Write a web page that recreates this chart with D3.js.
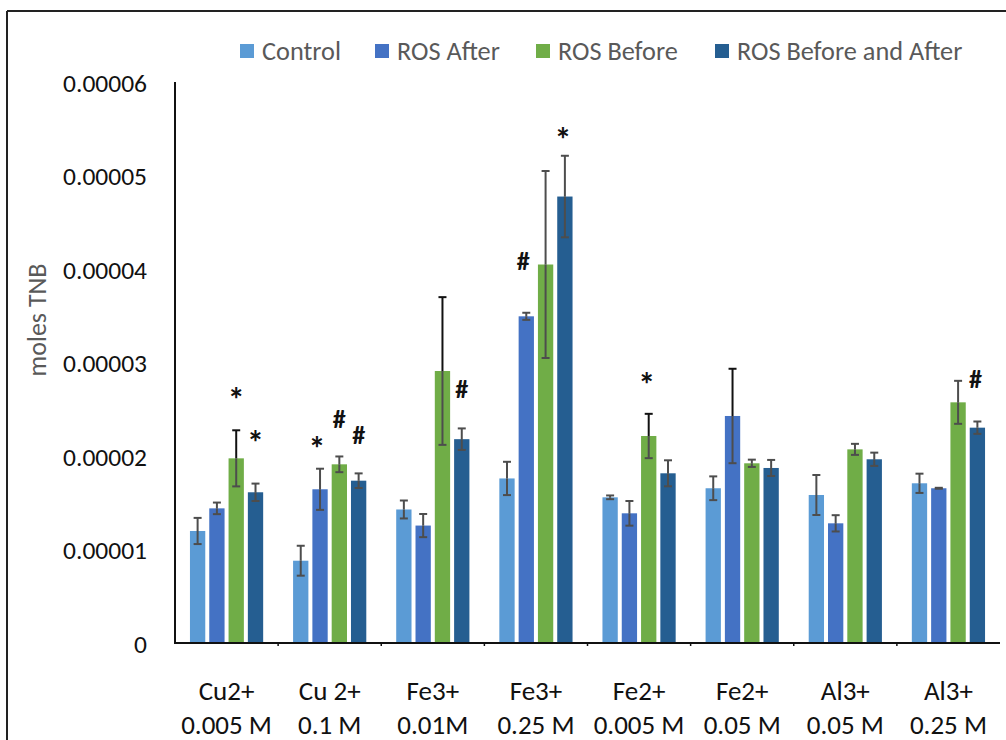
<!DOCTYPE html>
<html>
<head>
<meta charset="utf-8">
<script src="https://cdn.jsdelivr.net/npm/d3@7"></script>
<style>
  html, body { margin: 0; padding: 0; background: #fff; }
  svg { display: block; }
  text { font-family: Carlito, Lato, "Open Sans", sans-serif; }
</style>
</head>
<body>
<svg id="chart" width="1006" height="740"></svg>
<script>
// Metal ion treatments (two-line category labels)
const categories = ["Cu2+|0.005 M", "Cu 2+|0.1 M", "Fe3+|0.01M", "Fe3+|0.25 M",
                    "Fe2+|0.005 M", "Fe2+|0.05 M", "Al3+|0.05 M", "Al3+|0.25 M"];
const seriesNames = ["Control", "ROS After", "ROS Before", "ROS Before and After"];

// Mean moles of TNB per treatment
const control      = [1.198e-5, 0.88e-5, 1.428e-5, 1.76e-5, 1.558e-5, 1.655e-5, 1.583e-5, 1.708e-5];
const rosAfter     = [1.44e-5, 1.644e-5, 1.256e-5, 3.494e-5, 1.387e-5, 2.428e-5, 1.28e-5, 1.655e-5];
const rosBefore    = [1.975e-5, 1.911e-5, 2.909e-5, 4.048e-5, 2.214e-5, 1.922e-5, 2.071e-5, 2.574e-5];
const rosBeforeAft = [1.612e-5, 1.736e-5, 2.18e-5, 4.775e-5, 1.815e-5, 1.872e-5, 1.965e-5, 2.303e-5];

// Error (± one deviation)
const controlErr      = [1.4e-6, 1.6e-6, 0.96e-6, 1.78e-6, 0.2e-6, 1.27e-6, 2.14e-6, 1.03e-6];
const rosAfterErr     = [0.62e-6, 2.2e-6, 1.24e-6, 0.38e-6, 1.32e-6, 5.05e-6, 0.87e-6, 0.05e-6];
const rosBeforeErr    = [3.0e-6, 0.84e-6, 7.9e-6, 10.0e-6, 2.37e-6, 0.39e-6, 0.59e-6, 2.3e-6];
const rosBeforeAftErr = [0.93e-6, 0.78e-6, 1.15e-6, 4.36e-6, 1.39e-6, 0.86e-6, 0.71e-6, 0.66e-6];

const yTicks = [0, 0.00001, 0.00002, 0.00003, 0.00004, 0.00005, 0.00006];
const yTickLabels = ["0", "0.00001", "0.00002", "0.00003", "0.00004", "0.00005", "0.00006"];

// Significance marks: [category index, series index, symbol]
const marks = [[0, 2, "*"], [0, 3, "*"], [1, 1, "*"], [1, 2, "#"], [1, 3, "#"],
               [2, 3, "#"], [3, 1, "#"], [3, 3, "*"], [4, 2, "*"], [7, 3, "#"]];
// Extra vertical clearance for each mark above its whisker (px)
const markLift = [40, 50, 29, 37, 38, 39, 52, 25, 38, 42];
const markShift = [0, 0, -3, 0, 0, 0, -3, -2, -2, -2];

const values = [control, rosAfter, rosBefore, rosBeforeAft];
const errors = [controlErr, rosAfterErr, rosBeforeErr, rosBeforeAftErr];
const colors = ["#5B9BD5", "#4472C4", "#70AD47", "#255E91"];
// Whiskers drawn in black above the bar (category, series)
const blackWhiskers = [[0, 2], [2, 2], [4, 2], [5, 1]];

const svg = d3.select("#chart");

const x0 = d3.scaleBand().domain(d3.range(categories.length)).range([175, 1000]).padding(0);
const x1 = d3.scaleBand().domain(d3.range(seriesNames.length))
  .range([0, x0.bandwidth()]).paddingInner(0.207).paddingOuter(0.775);
const y = d3.scaleLinear().domain([0, 0.00006]).range([643, 82]);

// Outer frame (top and left edges)
svg.append("line").attr("x1", 7).attr("x2", 1006).attr("y1", 11).attr("y2", 11)
  .attr("stroke", "#222").attr("stroke-width", 2);
svg.append("line").attr("x1", 7).attr("x2", 7).attr("y1", 11).attr("y2", 740)
  .attr("stroke", "#222").attr("stroke-width", 2);

// Bars
const rows = [];
categories.forEach((c, ci) => seriesNames.forEach((s, si) => {
  rows.push({ci, si, v: values[si][ci], e: errors[si][ci]});
}));

svg.append("g").selectAll("rect").data(rows).join("rect")
  .attr("x", d => x0(d.ci) + x1(d.si))
  .attr("width", x1.bandwidth())
  .attr("y", d => y(d.v))
  .attr("height", d => y(0) - y(d.v))
  .attr("fill", d => colors[d.si]);

// Error bars
const eg = svg.append("g");
rows.forEach(d => {
  const cx = x0(d.ci) + x1(d.si) + x1.bandwidth() / 2;
  const top = y(d.v + d.e), bot = y(d.v - d.e), mid = y(d.v);
  const dark = blackWhiskers.some(b => b[0] === d.ci && b[1] === d.si);
  const upColor = dark ? "#111" : "#4d4d4d";
  eg.append("line").attr("x1", cx).attr("x2", cx).attr("y1", top).attr("y2", mid)
    .attr("stroke", upColor).attr("stroke-width", 2);
  eg.append("line").attr("x1", cx).attr("x2", cx).attr("y1", mid).attr("y2", bot)
    .attr("stroke", "#4d4d4d").attr("stroke-width", 2);
  eg.append("line").attr("x1", cx - 4).attr("x2", cx + 4).attr("y1", top).attr("y2", top)
    .attr("stroke", upColor).attr("stroke-width", 2);
  eg.append("line").attr("x1", cx - 4).attr("x2", cx + 4).attr("y1", bot).attr("y2", bot)
    .attr("stroke", "#4d4d4d").attr("stroke-width", 2);
});

// Significance symbols
svg.append("g").selectAll("text").data(marks).join("text")
  .attr("x", (m, i) => x0(m[0]) + x1(m[1]) + x1.bandwidth() / 2 + markShift[i])
  .attr("y", (m, i) => y(values[m[1]][m[0]] + errors[m[1]][m[0]]) - markLift[i] + (m[2] === "*" ? 9 : 0))
  .attr("text-anchor", "middle")
  .attr("dominant-baseline", "central")
  .attr("font-size", m => m[2] === "*" ? 34 : 26)
  .attr("font-weight", 700)
  .attr("fill", "#111")
  .text(m => m[2]);

// Axes lines
svg.append("line").attr("x1", 175).attr("x2", 175).attr("y1", y(0.00006)).attr("y2", y(0))
  .attr("stroke", "#111").attr("stroke-width", 2);
svg.append("line").attr("x1", 174).attr("x2", 1000).attr("y1", y(0)).attr("y2", y(0))
  .attr("stroke", "#111").attr("stroke-width", 2);
svg.append("g").selectAll("line").data(d3.range(1, categories.length)).join("line")
  .attr("x1", i => x0(i)).attr("x2", i => x0(i))
  .attr("y1", y(0)).attr("y2", y(0) + 3)
  .attr("stroke", "#111").attr("stroke-width", 1.5);

// Y tick labels
svg.append("g").selectAll("text").data(yTicks).join("text")
  .attr("x", 147).attr("y", d => y(d) + 1)
  .attr("text-anchor", "end").attr("dominant-baseline", "central")
  .attr("font-size", 25.5).attr("fill", "#111")
  .text((d, i) => yTickLabels[i]);

// Y axis title
svg.append("text")
  .attr("transform", "translate(37,320) rotate(-90)")
  .attr("text-anchor", "middle").attr("dominant-baseline", "central")
  .attr("font-size", 26).attr("fill", "#595959")
  .text("moles TNB");

// X category labels (two lines)
const xl = svg.append("g").selectAll("text").data(categories).join("text")
  .attr("text-anchor", "middle").attr("font-size", 27).attr("fill", "#111");
xl.append("tspan").attr("x", (c, i) => x0(i) + x0.bandwidth() / 2).attr("y", 700)
  .text(c => c.split("|")[0]);
xl.append("tspan").attr("x", (c, i) => x0(i) + x0.bandwidth() / 2).attr("y", 733.5)
  .text(c => c.split("|")[1]);

// Legend
const legendX = [262, 397, 558, 737];
const lg = svg.append("g").selectAll("g").data(seriesNames).join("g");
lg.append("rect").attr("x", (s, i) => legendX[i] - 22).attr("y", 44)
  .attr("width", 14).attr("height", 14).attr("fill", (s, i) => colors[i]);
lg.append("text").attr("x", (s, i) => legendX[i]).attr("y", 51)
  .attr("dominant-baseline", "central")
  .attr("font-size", 26.3).attr("fill", "#595959")
  .text(s => s);
</script>
</body>
</html>
